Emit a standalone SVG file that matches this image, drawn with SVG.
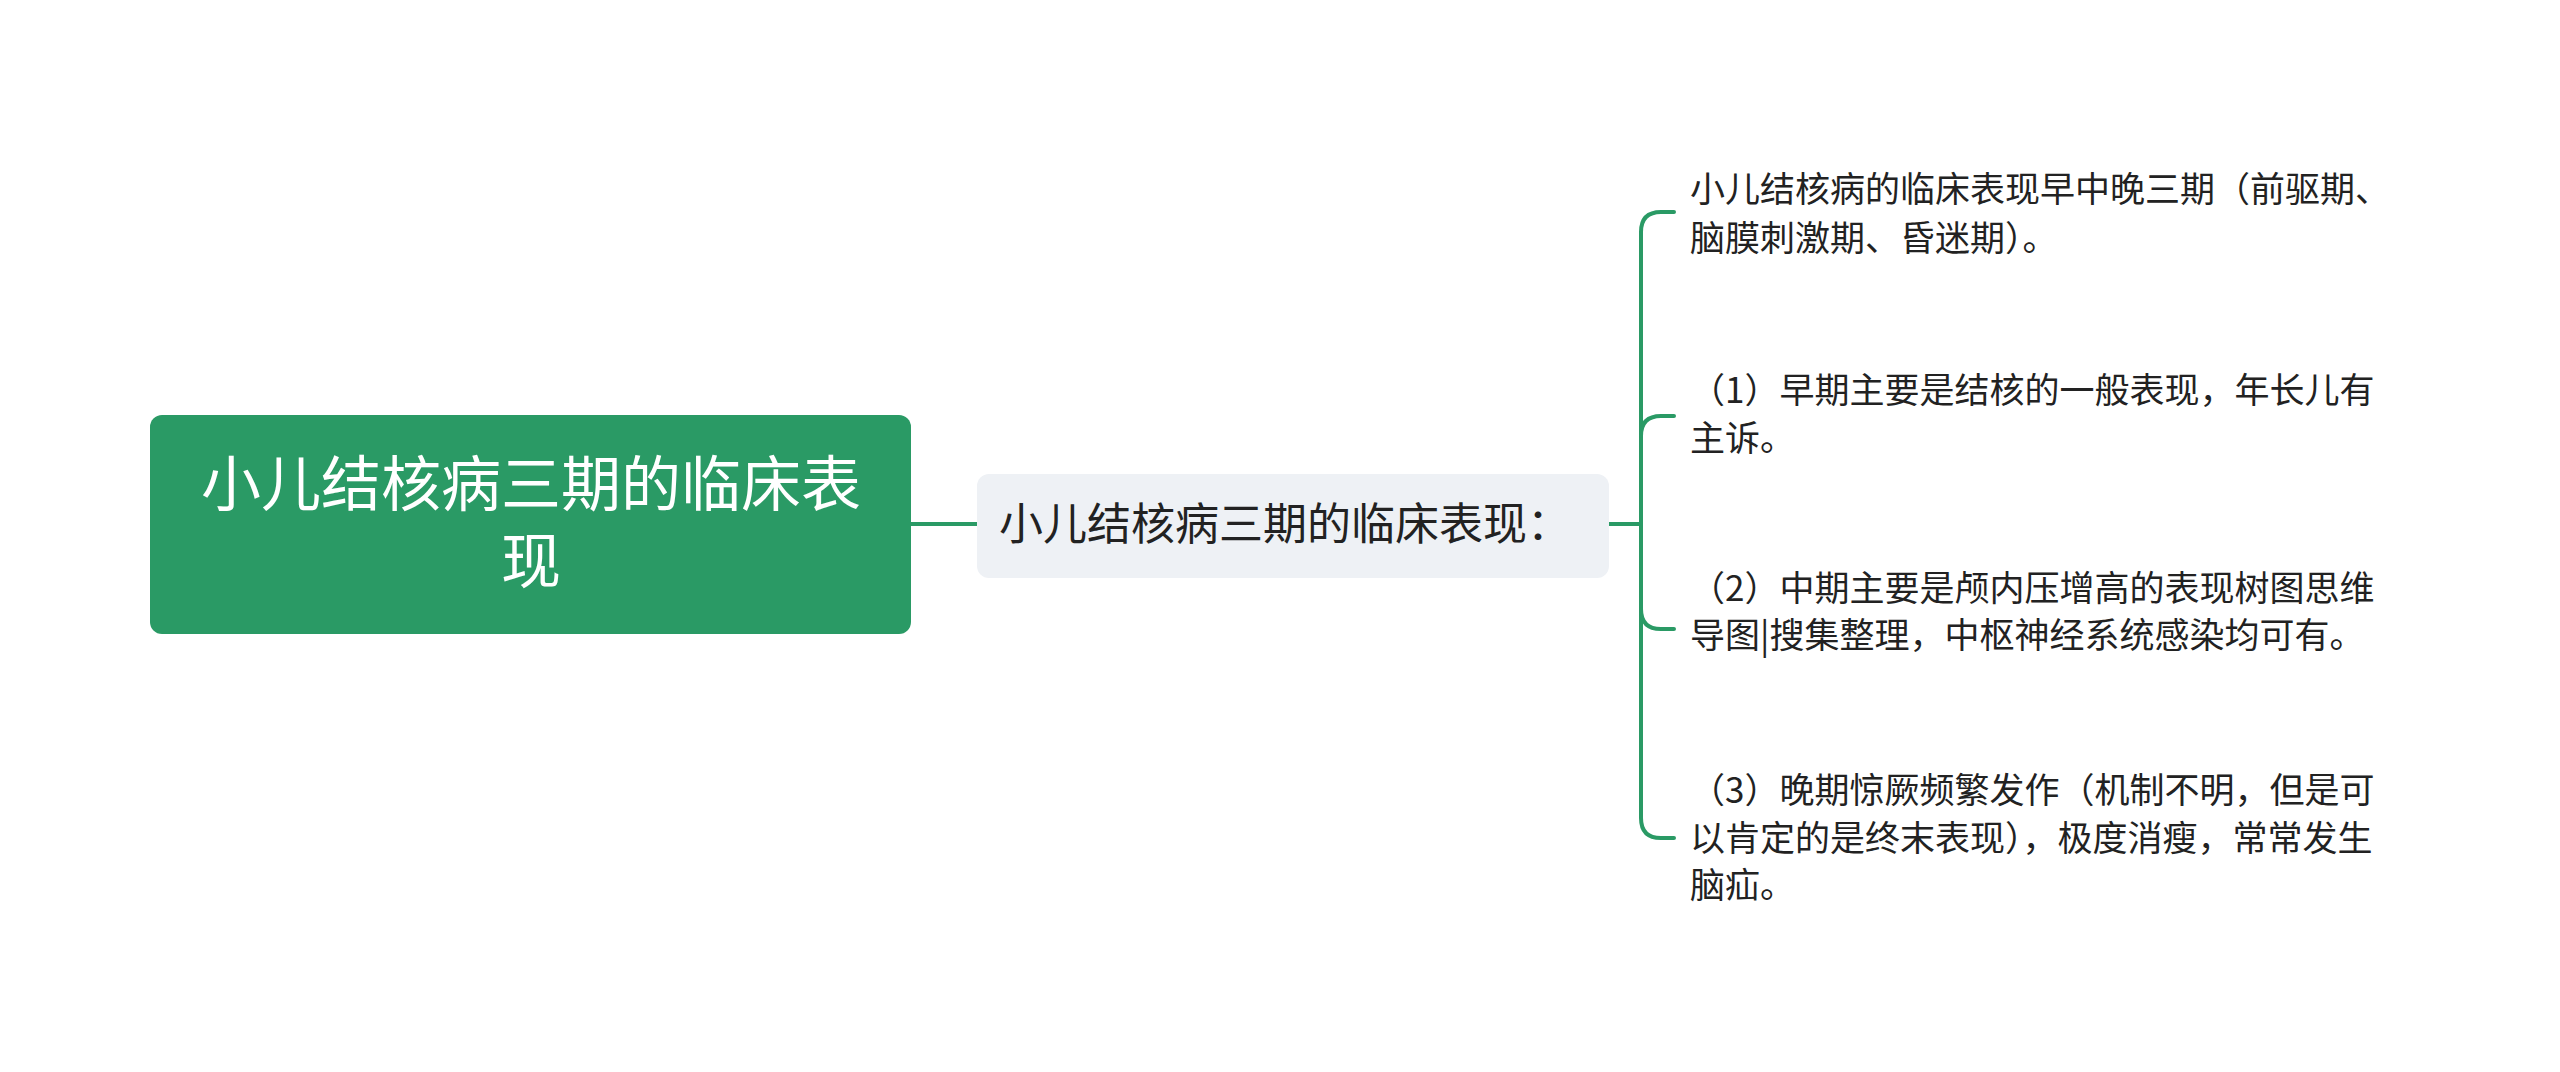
<svg xmlns="http://www.w3.org/2000/svg" width="2560" height="1072" viewBox="0 0 2560 1072">
<style>
text{font-family:"Noto Sans CJK SC","Liberation Sans",sans-serif}
.leaf{font-size:35px;fill:#222}
.ln{fill:none;stroke:#2a9a65;stroke-width:4;stroke-linecap:round}
</style>
<rect width="2560" height="1072" fill="#fff"/>
<g id="connectors">
<path class="ln" d="M911 524H977"/>
<path class="ln" d="M1609 524H1641"/>
<path class="ln" d="M1674 212H1661Q1641 212 1641 232V818Q1641 838 1661 838H1674"/>
<path class="ln" d="M1641 436Q1641 416 1661 416H1674"/>
<path class="ln" d="M1641 609Q1641 629 1661 629H1674"/>
</g>
<g id="root">
<rect x="150" y="415" width="761" height="219" rx="12" fill="#2a9a65"/>
<text x="531" y="506" font-size="60" fill="#fff" text-anchor="middle">小儿结核病三期的临床表</text>
<text x="531" y="583" font-size="60" fill="#fff" text-anchor="middle">现</text>
</g>
<g id="mid">
<rect x="977" y="474" width="632" height="104" rx="12" fill="#eef1f5"/>
<text x="999" y="540" font-size="44" fill="#222">小儿结核病三期的临床表现：</text>
</g>
<g id="leaf1">
<text class="leaf" x="1690" y="202">小儿结核病的临床表现早中晚三期（前驱期、</text>
<text class="leaf" x="1690" y="251">脑膜刺激期、昏迷期）。</text>
</g>
<g id="leaf2">
<text class="leaf" x="1690" y="403">（1）早期主要是结核的一般表现，年长儿有</text>
<text class="leaf" x="1690" y="451">主诉。</text>
</g>
<g id="leaf3">
<text class="leaf" x="1690" y="601">（2）中期主要是颅内压增高的表现树图思维</text>
<text class="leaf" x="1690" y="648">导图|搜集整理，中枢神经系统感染均可有。</text>
</g>
<g id="leaf4">
<text class="leaf" x="1690" y="803">（3）晚期惊厥频繁发作（机制不明，但是可</text>
<text class="leaf" x="1690" y="851">以肯定的是终末表现），极度消瘦，常常发生</text>
<text class="leaf" x="1690" y="898">脑疝。</text>
</g>
</svg>
